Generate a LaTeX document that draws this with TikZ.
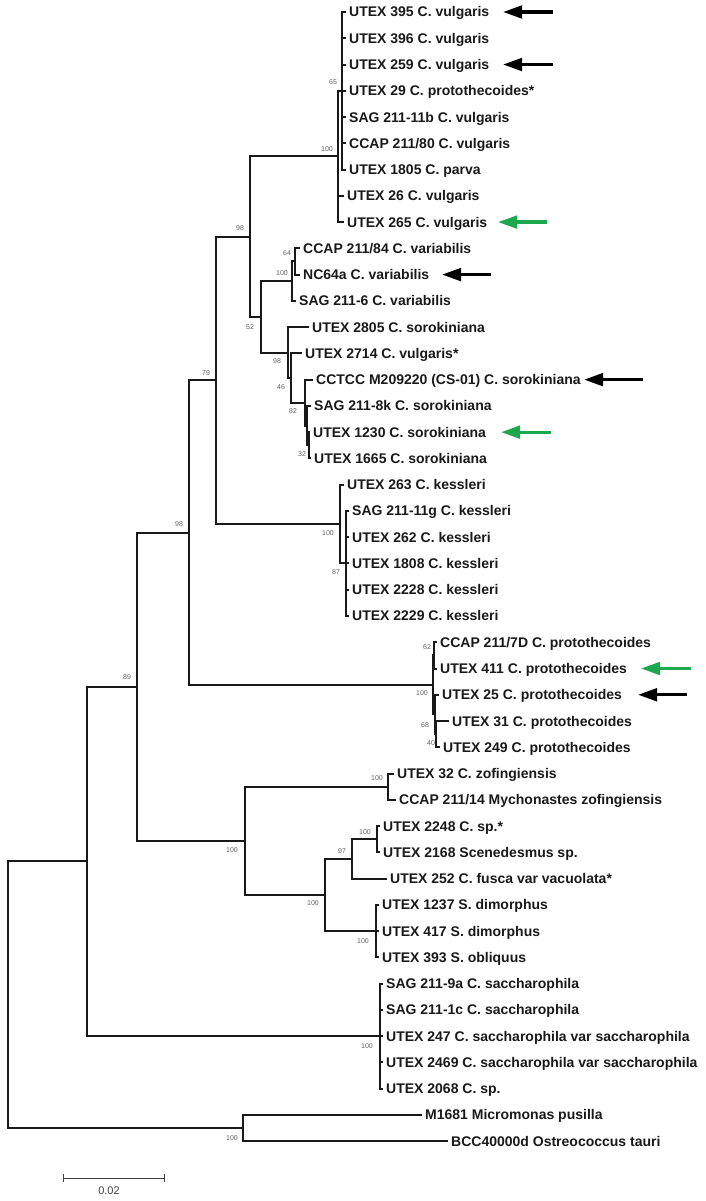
\documentclass[tikz,border=0pt]{standalone}
\usepackage{fontspec}
\setmainfont{Liberation Sans}
\usetikzlibrary{arrows.meta}
\definecolor{arrgreen}{RGB}{30,168,78}
\definecolor{treeblack}{RGB}{25,25,25}
\begin{document}
\begin{tikzpicture}[x=1pt,y=-1pt,
  br/.style={line width=2pt, draw=treeblack},
  leaf/.style={anchor=west, inner xsep=3pt, inner ysep=0pt, text height=10pt, text depth=0pt,
    font=\bfseries\fontsize{14}{14}\selectfont, text=treeblack},
  bs/.style={font=\fontsize{7}{7}\selectfont, text=black!62, inner sep=0pt},
  arrk/.style={line width=3.3pt, draw=black, -{Triangle[length=19pt,width=12.5pt]}},
  arrg/.style={line width=3.3pt, draw=arrgreen, -{Triangle[length=19pt,width=12.5pt]}},
  sbar/.style={line width=1pt, draw=black!75}]
\useasboundingbox (0,0) rectangle (706,1201);

% ---------- leaves ----------
\node[leaf] (v1) at (346,12.00) {UTEX 395 C. vulgaris};
\node[leaf] (v2) at (346,38.26) {UTEX 396 C. vulgaris};
\node[leaf] (v3) at (346,64.52) {UTEX 259 C. vulgaris};
\node[leaf] (v4) at (346,90.78) {UTEX 29 C. protothecoides*};
\node[leaf] (v5) at (346,117.04) {SAG 211-11b C. vulgaris};
\node[leaf] (v6) at (346,143.30) {CCAP 211/80 C. vulgaris};
\node[leaf] (v7) at (346,169.56) {UTEX 1805 C. parva};
\node[leaf] (v8) at (344,195.82) {UTEX 26 C. vulgaris};
\node[leaf] (v9) at (344,222.08) {UTEX 265 C. vulgaris};
\node[leaf] (v10) at (300,248.34) {CCAP 211/84 C. variabilis};
\node[leaf] (v11) at (300,274.60) {NC64a C. variabilis};
\node[leaf] (v12) at (296,300.86) {SAG 211-6 C. variabilis};
\node[leaf] (v13) at (309,327.12) {UTEX 2805 C. sorokiniana};
\node[leaf] (v14) at (302,353.38) {UTEX 2714 C. vulgaris*};
\node[leaf] (v15) at (313,379.64) {CCTCC M209220 (CS-01) C. sorokiniana};
\node[leaf] (v16) at (311,405.90) {SAG 211-8k C. sorokiniana};
\node[leaf] (v17) at (310,432.16) {UTEX 1230 C. sorokiniana};
\node[leaf] (v18) at (311,458.42) {UTEX 1665 C. sorokiniana};
\node[leaf] (v19) at (344,484.68) {UTEX 263 C. kessleri};
\node[leaf] (v20) at (349,510.94) {SAG 211-11g C. kessleri};
\node[leaf] (v21) at (349,537.20) {UTEX 262 C. kessleri};
\node[leaf] (v22) at (349,563.46) {UTEX 1808 C. kessleri};
\node[leaf] (v23) at (349,589.72) {UTEX 2228 C. kessleri};
\node[leaf] (v24) at (349,615.98) {UTEX 2229 C. kessleri};
\node[leaf] (v25) at (437,642.24) {CCAP 211/7D C. protothecoides};
\node[leaf] (v26) at (437,668.50) {UTEX 411 C. protothecoides};
\node[leaf] (v27) at (439,694.76) {UTEX 25 C. protothecoides};
\node[leaf] (v28) at (449,721.02) {UTEX 31 C. protothecoides};
\node[leaf] (v29) at (440,747.28) {UTEX 249 C. protothecoides};
\node[leaf] (v30) at (394,773.54) {UTEX 32 C. zofingiensis};
\node[leaf] (v31) at (396,799.80) {CCAP 211/14 Mychonastes zofingiensis};
\node[leaf] (v32) at (380,826.06) {UTEX 2248 C. sp.*};
\node[leaf] (v33) at (380,852.32) {UTEX 2168 Scenedesmus sp.};
\node[leaf] (v34) at (387,878.58) {UTEX 252 C. fusca var vacuolata*};
\node[leaf] (v35) at (379,904.84) {UTEX 1237 S. dimorphus};
\node[leaf] (v36) at (379,931.10) {UTEX 417 S. dimorphus};
\node[leaf] (v37) at (379,957.36) {UTEX 393 S. obliquus};
\node[leaf] (v38) at (383,983.62) {SAG 211-9a C. saccharophila};
\node[leaf] (v39) at (383,1009.88) {SAG 211-1c C. saccharophila};
\node[leaf] (v40) at (383,1036.14) {UTEX 247 C. saccharophila var saccharophila};
\node[leaf] (v41) at (383,1062.40) {UTEX 2469 C. saccharophila var saccharophila};
\node[leaf] (v42) at (383,1088.66) {UTEX 2068 C. sp.};
\node[leaf] (v43) at (422,1114.92) {M1681 Micromonas pusilla};
\node[leaf] (v44) at (448,1141.18) {BCC40000d Ostreococcus tauri};

% ---------- internal nodes ----------
\coordinate (n65) at (342,90.78);
\coordinate (nV) at (338,156.43);
\coordinate (n64) at (295,261.47);
\coordinate (nVar) at (292,281.17);
\coordinate (nB) at (309,445.29);
\coordinate (n32) at (307,425.6);
\coordinate (n82) at (305,402.62);
\coordinate (n46) at (291,378);
\coordinate (n98c) at (288,352.56);
\coordinate (n52) at (261,316.87);
\coordinate (n98a) at (250,236.65);
\coordinate (n87) at (346,563.46);
\coordinate (nK) at (340,524.07);
\coordinate (n79) at (216,380.36);
\coordinate (n62) at (434,655.37);
\coordinate (n40) at (436,734.15);
\coordinate (n68) at (435,714.46);
\coordinate (nP) at (433,684.9);
\coordinate (n98b) at (189,532.63);
\coordinate (nZof) at (388,786.67);
\coordinate (nSb) at (377,839.19);
\coordinate (nS97) at (352,858.89);
\coordinate (nSc) at (376,931.1);
\coordinate (nS) at (325,895);
\coordinate (nZ) at (245,840.83);
\coordinate (n89) at (137,686.73);
\coordinate (nSac) at (380,1036.14);
\coordinate (nX) at (87,861.4);
\coordinate (nMO) at (243,1128.05);
\coordinate (root) at (8,994.7);

% ---------- branches ----------
\foreach \p/\c in {root/nX, root/nMO, nX/n89, nX/nSac, n89/n98b, n89/nZ,
  n98b/n79, n98b/nP, n79/n98a, n79/nK, n98a/nV, n98a/n52, nV/n65,
  n52/nVar, n52/n98c, nVar/n64, n98c/n46, n46/n82, n82/n32, n32/nB,
  nK/n87, nP/n62, nP/n68, n68/n40, nZ/nZof, nZ/nS, nS/nS97, nS/nSc, nS97/nSb}
  \draw[br] (\p) |- (\c);
\foreach \p/\c in {n65/v1, n65/v2, n65/v3, n65/v4, n65/v5, n65/v6, n65/v7,
  nV/v8, nV/v9, n64/v10, n64/v11, nVar/v12, n98c/v13, n46/v14, n82/v15,
  n32/v16, nB/v17, nB/v18, nK/v19, n87/v20, n87/v21, n87/v22, n87/v23, n87/v24,
  n62/v25, n62/v26, n68/v27, n40/v28, n40/v29, nZof/v30, nZof/v31,
  nSb/v32, nSb/v33, nS97/v34, nSc/v35, nSc/v36, nSc/v37,
  nSac/v38, nSac/v39, nSac/v40, nSac/v41, nSac/v42, nMO/v43, nMO/v44}
  \draw[br] (\p) |- (\c.west);

% ---------- bootstrap values ----------
\node[bs] (b65) at (333,82) {65};
\node[bs] (bV) at (327,149) {100};
\node[bs] (b98a) at (240,228) {98};
\node[bs] (b64) at (287,253) {64};
\node[bs] (bVar) at (282,273) {100};
\node[bs] (b52) at (250,327) {52};
\node[bs] (b98c) at (277,361) {98};
\node[bs] (b46) at (281,387) {46};
\node[bs] (b82) at (293,411) {82};
\node[bs] (b32) at (302,454) {32};
\node[bs] (b79) at (206,373) {79};
\node[bs] (bK) at (328,533) {100};
\node[bs] (b87) at (336,572) {87};
\node[bs] (b98b) at (179,524) {98};
\node[bs] (b62) at (427,647) {62};
\node[bs] (bP) at (422,693) {100};
\node[bs] (b68) at (425,725) {68};
\node[bs] (b40) at (431,743) {40};
\node[bs] (b89) at (127,677) {89};
\node[bs] (bZof) at (377,778) {100};
\node[bs] (bZ) at (232,850) {100};
\node[bs] (b97) at (342,851) {97};
\node[bs] (bSb) at (365,832) {100};
\node[bs] (bS) at (313,903) {100};
\node[bs] (bSc) at (363,941) {100};
\node[bs] (bSac) at (367,1046) {100};
\node[bs] (bMO) at (232,1138) {100};

% ---------- arrows ----------
\coordinate (a1t) at (553,12.00);   \coordinate (a1h) at (503,12.00);
\coordinate (a2t) at (553,64.52);   \coordinate (a2h) at (503,64.52);
\coordinate (a3t) at (491,274.60);  \coordinate (a3h) at (442,274.60);
\coordinate (a4t) at (643,379.64);  \coordinate (a4h) at (584,379.64);
\coordinate (a5t) at (687,694.76);  \coordinate (a5h) at (638,694.76);
\coordinate (g1t) at (547,222.08);  \coordinate (g1h) at (498,222.08);
\coordinate (g2t) at (551,432.16);  \coordinate (g2h) at (501,432.16);
\coordinate (g3t) at (691,668.50);  \coordinate (g3h) at (641,668.50);
\draw[arrk] (a1t) -- (a1h);
\draw[arrk] (a2t) -- (a2h);
\draw[arrk] (a3t) -- (a3h);
\draw[arrk] (a4t) -- (a4h);
\draw[arrk] (a5t) -- (a5h);
\draw[arrg] (g1t) -- (g1h);
\draw[arrg] (g2t) -- (g2h);
\draw[arrg] (g3t) -- (g3h);

% ---------- scale bar ----------
\coordinate (sb1) at (63,1178);
\coordinate (sb2) at (164,1178);
\draw[sbar] (sb1) -- (sb2);
\draw[sbar] ([yshift=4pt]sb1) -- ([yshift=-4pt]sb1);
\draw[sbar] ([yshift=4pt]sb2) -- ([yshift=-4pt]sb2);
\node[font=\fontsize{11}{11}\selectfont, text=black!75, inner sep=0pt] (sbl) at (109,1191) {0.02};
\end{tikzpicture}
\end{document}
